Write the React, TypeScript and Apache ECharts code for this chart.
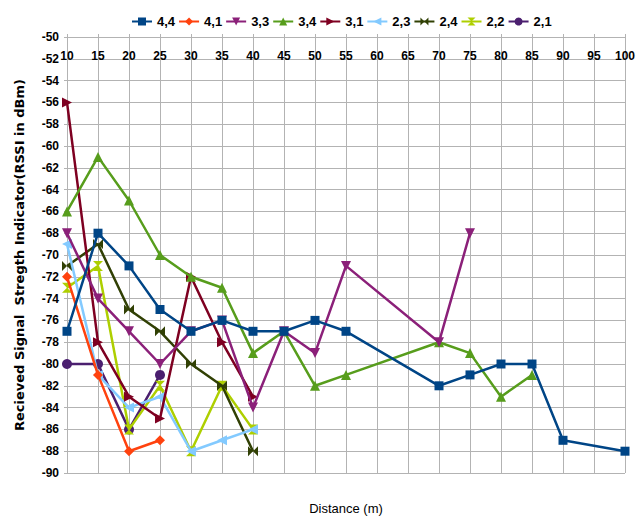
import React, { useEffect, useRef } from "react";
import * as echarts from "echarts";

// Distance (m) at which each reading was taken, and the RSSI (dBm) measured there
const distances44 = [10, 15, 20, 25, 30, 35, 40, 45, 50, 55, 70, 75, 80, 85, 90, 100];
const rssi44 = [-77, -68, -71, -75, -77, -76, -77, -77, -76, -77, -82, -81, -80, -80, -87, -88];

const distances41 = [10, 15, 20, 25];
const rssi41 = [-72, -81, -88, -87];

const distances33 = [10, 15, 20, 25, 30, 35, 40, 45, 50, 55, 70, 75];
const rssi33 = [-68, -74, -77, -80, -77, -76, -84, -77, -79, -71, -78, -68];

const distances34 = [10, 15, 20, 25, 30, 35, 40, 45, 50, 55, 70, 75, 80, 85];
const rssi34 = [-66, -61, -65, -70, -72, -73, -79, -77, -82, -81, -78, -79, -83, -81];

const distances31 = [10, 15, 20, 25, 30, 35, 40];
const rssi31 = [-56, -78, -83, -85, -72, -78, -83];

const distances23 = [10, 15, 20, 25, 30, 35, 40];
const rssi23 = [-69, -81, -84, -83, -88, -87, -86];

const distances24 = [10, 15, 20, 25, 30, 35, 40];
const rssi24 = [-71, -69, -75, -77, -80, -82, -88];

const distances22 = [10, 15, 20, 25, 30, 35, 40];
const rssi22 = [-73, -71, -86, -82, -88, -82, -86];

const distances21 = [10, 15, 20, 25];
const rssi21 = [-80, -80, -86, -81];

const seriesNames = ["4,4", "4,1", "3,3", "3,4", "3,1", "2,3", "2,4", "2,2", "2,1"];
const seriesX = [distances44, distances41, distances33, distances34, distances31, distances23, distances24, distances22, distances21];
const seriesY = [rssi44, rssi41, rssi33, rssi34, rssi31, rssi23, rssi24, rssi22, rssi21];

const colors = ["#004586", "#ff420e", "#8b2079", "#579d1c", "#7e0021", "#83caff", "#314004", "#aecf00", "#4b1f6f"];
const symbols = [
  "rect",
  "diamond",
  "path://M0,0L10,0L5,10Z",
  "triangle",
  "path://M0,0L10,5L0,10Z",
  "path://M10,0L0,5L10,10Z",
  "path://M0,0L5,5L0,10Z M10,0L5,5L10,10Z",
  "path://M0,0L10,0L5,5Z M5,5L10,10L0,10Z",
  "circle",
];

const xTicks = { min: 10, max: 100, step: 5 };
const yTicks = { min: -90, max: -50, step: 2 };

const sans = "'Liberation Sans', Arial, sans-serif";

export default function App() {
  const ref = useRef<HTMLDivElement>(null);

  useEffect(() => {
    if (!ref.current) return;
    const chart = echarts.init(ref.current, undefined, { renderer: "svg" });

    // the first series is drawn on top of the later ones
    const series = seriesNames.map((name, i) => ({
      name,
      type: "line",
      z: 2 + seriesNames.length - i,
      data: seriesX[i].map((x, k) => [x, seriesY[i][k]]),
      symbol: symbols[i],
      symbolSize: i === 0 ? 9 : 10,
      showAllSymbol: true,
      lineStyle: { color: colors[i], width: 2.5 },
      itemStyle: { color: colors[i] },
      emphasis: { disabled: true },
    }));

    chart.setOption({
      animation: false,
      backgroundColor: "#ffffff",
      color: colors,
      legend: {
        top: 10,
        left: 126,
        itemWidth: 20,
        itemHeight: 10,
        itemGap: 3,
        textStyle: { fontFamily: sans, fontSize: 13, fontWeight: "bold", color: "#000" },
        data: seriesNames,
      },
      grid: { left: 67, right: 18, top: 37, bottom: 45, containLabel: false, outerBoundsMode: "none" },
      xAxis: {
        type: "value",
        position: "top",
        min: xTicks.min,
        max: xTicks.max,
        interval: xTicks.step,
        name: "Distance (m)",
        nameLocation: "middle",
        nameGap: -478,
        nameTextStyle: { fontFamily: sans, fontSize: 13, color: "#000" },
        axisLine: { show: true, lineStyle: { color: "#b3b3b3", width: 1 } },
        axisTick: { show: true, inside: false, length: 3, lineStyle: { color: "#b3b3b3" } },
        axisLabel: {
          inside: true,
          margin: 13,
          fontFamily: sans,
          fontSize: 12,
          fontWeight: "bold",
          color: "#000",
        },
        splitLine: { show: true, lineStyle: { color: "#b3b3b3", width: 1 } },
      },
      yAxis: {
        type: "value",
        min: yTicks.min,
        max: yTicks.max,
        interval: yTicks.step,
        name: "Recieved Signal  Stregth Indicator(RSSI in dBm)",
        nameLocation: "middle",
        nameRotate: 90,
        nameGap: 41,
        nameTextStyle: { fontFamily: "'DejaVu Sans', sans-serif", fontSize: 13, fontWeight: "bold", color: "#000" },
        axisLine: { show: true, lineStyle: { color: "#b3b3b3", width: 1 } },
        axisTick: { show: true, length: 3, lineStyle: { color: "#b3b3b3" } },
        axisLabel: {
          margin: 8,
          fontFamily: sans,
          fontSize: 12,
          fontWeight: "bold",
          color: "#000",
        },
        splitLine: { show: true, lineStyle: { color: "#b3b3b3", width: 1 } },
      },
      series,
    });

    return () => chart.dispose();
  }, []);

  return (
    <div
      ref={ref}
      style={{ position: "absolute", left: 0, top: 0, width: 643, height: 518 }}
    />
  );
}
